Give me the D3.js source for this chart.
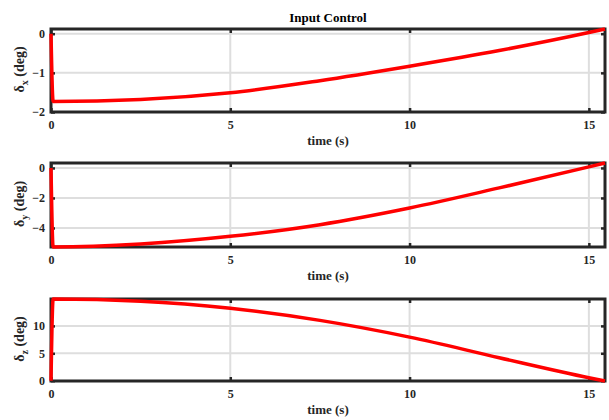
<!DOCTYPE html>
<html>
<head>
<meta charset="utf-8">
<script src="https://cdn.jsdelivr.net/npm/d3@7"></script>
<style>
  html, body { margin: 0; padding: 0; background: #fff; }
  svg { display: block; font-family: "Liberation Serif", "Times New Roman", serif; font-weight: bold; }
</style>
</head>
<body>
<svg id="chart" width="609" height="420"></svg>
<script>
// ---- data ----
const time = [0, 0.06, 2.5, 5, 7.5, 10, 12.5, 15, 15.45];
const deltaX = [0, -1.73, -1.68, -1.51, -1.20, -0.83, -0.43, 0.03, 0.12];
const deltaY = [0, -5.27, -5.07, -4.56, -3.78, -2.67, -1.33, 0.07, 0.33];
const deltaZ = [0, 14.9, 14.5, 13.2, 11.0, 7.95, 4.2, 0.55, -0.05];

const xTicks = [0, 5, 10, 15];
const yTicksX = [-2, -1, 0];
const yTicksY = [-4, -2, 0];
const yTicksZ = [0, 5, 10];

const xDomain = [0, 15.45];
const yDomainX = [-2, 0.12];
const yDomainY = [-5.27, 0.33];
const yDomainZ = [-0.05, 14.9];

const subs = ["x", "y", "z"];
const titleText = "Input Control";
const xLabelText = "time (s)";

// ---- layout ----
const left = 51, right = 605;
const tops = [29, 163, 299];
const bottoms = [112, 247, 381];

const svg = d3.select("#chart");
const x = d3.scaleLinear().domain(xDomain).range([left, right]);

const panels = [
  { vals: deltaX, ticks: yTicksX, dom: yDomainX },
  { vals: deltaY, ticks: yTicksY, dom: yDomainY },
  { vals: deltaZ, ticks: yTicksZ, dom: yDomainZ }
];

const axisColor = "#262626";
const gridColor = "#dedede";
const serif = '"Liberation Serif", "Times New Roman", serif';

panels.forEach((p, i) => {
  const top = tops[i], bottom = bottoms[i];
  const y = d3.scaleLinear().domain(p.dom).range([bottom, top]);
  const g = svg.append("g");

  // grid
  g.selectAll(".gx").data(xTicks).join("line")
    .attr("x1", d => x(d)).attr("x2", d => x(d))
    .attr("y1", top).attr("y2", bottom)
    .attr("stroke", gridColor).attr("stroke-width", 2);
  g.selectAll(".gy").data(p.ticks).join("line")
    .attr("y1", d => y(d)).attr("y2", d => y(d))
    .attr("x1", left).attr("x2", right)
    .attr("stroke", gridColor).attr("stroke-width", 2);

  // axes via d3.axis (inner ticks)
  const xb = d3.axisBottom(x).tickValues(xTicks).tickSize(-4).tickPadding(8).tickFormat(d3.format("d"));
  const xt = d3.axisTop(x).tickValues(xTicks).tickSize(-4).tickFormat("");
  const yl = d3.axisLeft(y).tickValues(p.ticks).tickSize(-4).tickPadding(6).tickFormat(d3.format("d"));
  const yr = d3.axisRight(y).tickValues(p.ticks).tickSize(-4).tickFormat("");

  const styleAxis = sel => {
    sel.attr("font-family", serif).attr("font-size", 12);
    sel.select(".domain").remove();
    sel.selectAll(".tick line").attr("stroke", axisColor).attr("stroke-width", 2.5);
    sel.selectAll(".tick text").attr("fill", "#262626")
      .style("font-family", serif).style("font-weight", "bold").style("font-size", "12px");
  };
  g.append("g").attr("transform", `translate(0,${bottom})`).call(xb).call(styleAxis);
  g.append("g").attr("transform", `translate(0,${top})`).call(xt).call(styleAxis);
  g.append("g").attr("transform", `translate(${left},0)`).call(yl).call(styleAxis);
  g.append("g").attr("transform", `translate(${right},0)`).call(yr).call(styleAxis);

  // box
  g.append("rect").attr("x", left).attr("y", top)
    .attr("width", right - left).attr("height", bottom - top)
    .attr("fill", "none").attr("stroke", axisColor).attr("stroke-width", 3);

  // data line
  const line = d3.line().x((d, k) => x(time[k])).y(d => y(d)).curve(d3.curveMonotoneX);
  g.append("path").datum(p.vals).attr("d", line)
    .attr("fill", "none").attr("stroke", "#ff0000").attr("stroke-width", 3.5)
    .attr("stroke-linejoin", "round");

  // x label
  g.append("text").attr("x", (left + right) / 2).attr("y", bottom + 33)
    .attr("text-anchor", "middle").attr("fill", "#262626").style("font-size", "13px")
    .text(xLabelText);

  // y label
  const cy = (top + bottom) / 2 - 1;
  const yt = g.append("text").attr("transform", `translate(24,${cy}) rotate(-90)`)
    .attr("text-anchor", "middle").attr("fill", "#262626").style("font-size", "14px");
  yt.append("tspan").text("δ");
  yt.append("tspan").attr("dy", 4).style("font-size", "10px").text(subs[i]);
  yt.append("tspan").attr("dy", -4).text(" (deg)");
});

// title
svg.append("text").attr("x", (left + right) / 2).attr("y", 22)
  .attr("text-anchor", "middle").attr("fill", "#000").style("font-size", "13px")
  .text(titleText);
</script>
</body>
</html>
